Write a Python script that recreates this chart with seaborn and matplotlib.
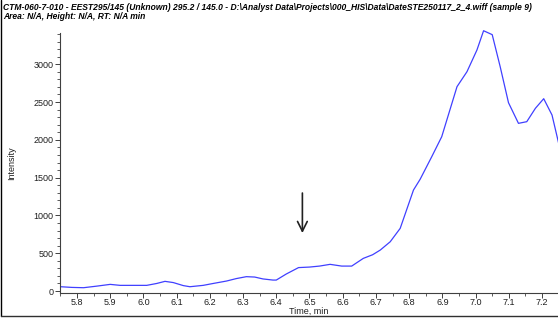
import matplotlib
matplotlib.use("Agg")
import matplotlib.pyplot as plt
from matplotlib.ticker import MultipleLocator
from matplotlib.lines import Line2D
import pandas as pd
import seaborn as sns

# Extracted ion chromatogram, 295.2 / 145.0
time_min = [5.751, 5.785, 5.82, 5.86, 5.90, 5.93, 5.97, 6.01, 6.04, 6.065, 6.09,
            6.12, 6.14, 6.18, 6.21, 6.25, 6.28, 6.31, 6.335, 6.36, 6.39, 6.40,
            6.43, 6.467, 6.50, 6.53, 6.562, 6.597, 6.627, 6.662, 6.69, 6.713,
            6.743, 6.773, 6.813, 6.833, 6.868, 6.898, 6.944, 6.974, 7.004, 7.024,
            7.05, 7.074, 7.099, 7.129, 7.154, 7.18, 7.205, 7.23, 7.25]
intensity = [57, 48, 44, 65, 88, 75, 75, 75, 100, 128, 112,
             72, 57, 75, 100, 132, 165, 190, 185, 160, 145, 145,
             225, 310, 317, 330, 353, 330, 330, 432, 480, 542,
             652, 829, 1336, 1478, 1777, 2041, 2703, 2901, 3188, 3443,
             3391, 2967, 2491, 2218, 2240, 2417, 2544, 2328, 1954]

title_lines = [
    "CTM-060-7-010 - EEST295/145 (Unknown) 295.2 / 145.0 - D:\\Analyst Data\\Projects\\000_HIS\\Data\\DateSTE250117_2_4.wiff (sample 9)",
    "Area: N/A, Height: N/A, RT: N/A min",
]
x_label = "Time, min"
y_label = "Intensity"
marker_time = 6.4786
marker_from, marker_to = 1296, 767

sns.set_style("ticks")
plt.rcParams["font.family"] = ["Liberation Sans", "DejaVu Sans"]

df = pd.DataFrame({"time": time_min, "intensity": intensity})

fig = plt.figure(figsize=(5.58, 3.20), dpi=100)
ax = fig.add_axes([60 / 558, 27 / 320, 497 / 558, 260 / 320])

sns.lineplot(data=df, x="time", y="intensity", ax=ax, color="#4040ff",
             linewidth=0.9, clip_on=False)

ax.set_xlim(5.749, 7.245)
ax.set_ylim(-26, 3413)
ax.xaxis.set_major_locator(MultipleLocator(0.1))
ax.xaxis.set_minor_locator(MultipleLocator(0.05))
ax.yaxis.set_major_locator(MultipleLocator(500))
ax.yaxis.set_minor_locator(MultipleLocator(100))
ax.xaxis.set_major_formatter(plt.FuncFormatter(lambda v, p: f"{v:.1f}"))

ax.tick_params(axis="both", which="major", length=3.5, width=0.7, color="#404040",
               labelsize=6.5, labelcolor="#202020", pad=1.2)
ax.tick_params(axis="x", which="major", pad=0.3)
ax.tick_params(axis="both", which="minor", length=2, width=0.6, color="#404040")

for s in ("top", "right"):
    ax.spines[s].set_visible(False)
for s in ("left", "bottom"):
    ax.spines[s].set_color("#404040")
    ax.spines[s].set_linewidth(0.8)

ax.set_xlabel(x_label, fontsize=6.5, color="#202020", labelpad=0)
ax.xaxis.set_label_coords(0.5, -0.055)
ax.set_ylabel(y_label, fontsize=6.5, color="#202020", labelpad=0)
ax.yaxis.set_label_coords(-0.088, 0.5)

ax.annotate("", xy=(marker_time, marker_to), xytext=(marker_time, marker_from),
            arrowprops=dict(arrowstyle="->,head_length=0.7,head_width=0.35",
                            color="#202020", lw=1.2, shrinkA=0, shrinkB=0))

fig.text(3 / 558, 1 - 7 / 320, title_lines[0], fontsize=6.15, fontweight="bold",
         fontstyle="italic", va="center", ha="left", color="black")
fig.text(3 / 558, 1 - 16.5 / 320, title_lines[1], fontsize=6.15, fontweight="bold",
         fontstyle="italic", va="center", ha="left", color="black")

# outer frame lines
fig.add_artist(Line2D([1 / 558, 1 / 558], [4 / 320, 1], transform=fig.transFigure,
                      color="black", lw=1))
fig.add_artist(Line2D([1 / 558, 1], [4 / 320, 4 / 320], transform=fig.transFigure,
                      color="#303030", lw=1))

fig.savefig("out.png", dpi=100)
